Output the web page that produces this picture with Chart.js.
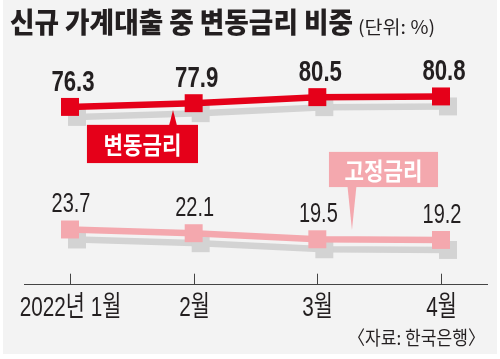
<!DOCTYPE html>
<html><head><meta charset="utf-8">
<script src="https://cdn.jsdelivr.net/npm/chart.js@4.4.1/dist/chart.umd.min.js"></script>
<style>html,body{margin:0;padding:0;background:#fff;}#wrap{width:500px;height:359px;position:relative;}</style>
</head><body><div id="wrap"><canvas id="c" width="500" height="359"></canvas></div>
<script>
const months = ['2022년 1월', '2월', '3월', '4월'];
const variableRate = [76.3, 77.9, 80.5, 80.8];
const fixedRate = [23.7, 22.1, 19.5, 19.2];
const titleText = '신규 가계대출 중 변동금리 비중';
const unitText = '(단위: %)';
const sourceText = '〈자료: 한국은행〉';
const variableLabel = '변동금리';
const fixedLabel = '고정금리';

const RED = '#e50019', PINK = '#f4a8ae', SHADOW = '#d3d3d3', INK = '#231f20', BG = '#f3f3f3';
const KR = "'Noto Sans CJK KR', sans-serif";
const NUM = "'Liberation Sans', Arial, sans-serif";

function toPts(arr){ return arr.map((v,i)=>({x:i, y:v})); }

function scaledText(ctx, text, font, x, y, sx, align, baseline, color){
  ctx.save(); ctx.font = font; ctx.fillStyle = color;
  ctx.translate(x, y); ctx.scale(sx, 1);
  ctx.textAlign = align; ctx.textBaseline = baseline;
  ctx.fillText(text, 0, 0); ctx.restore();
}
function fitText(ctx, text, font, x, y, width, align, baseline, color){
  ctx.save(); ctx.font = font;
  const w = ctx.measureText(text).width; ctx.restore();
  scaledText(ctx, text, font, x, y, width / w, align, baseline, color);
}

const bgPlugin = {
  id: 'bg',
  beforeDraw(chart){
    const ctx = chart.ctx; ctx.save();
    ctx.fillStyle = '#fff'; ctx.fillRect(0,0,chart.width,chart.height);
    ctx.fillStyle = BG; ctx.fillRect(3,0,chart.width-6,chart.height-5);
    ctx.restore();
  }
};
const shadowPlugin = {
  id: 'shadowShift',
  beforeDatasetDraw(chart, args){
    if (chart.data.datasets[args.index].isShadow){ chart.ctx.save(); chart.ctx.translate(7,10); }
  },
  afterDatasetDraw(chart, args){
    if (chart.data.datasets[args.index].isShadow){ chart.ctx.restore(); }
  }
};
const labelPlugin = {
  id: 'labels',
  afterDatasetsDraw(chart){
    const ctx = chart.ctx, xs = chart.scales.x, ys = chart.scales.y;
    const axisY = chart.chartArea.bottom;
    // tick marks (upward) and tick labels
    months.forEach((m, i) => {
      const x = Math.round(xs.getPixelForValue(i)) + 0.5;
      ctx.save(); ctx.strokeStyle = '#444'; ctx.lineWidth = 1;
      ctx.beginPath(); ctx.moveTo(x, axisY); ctx.lineTo(x, axisY - 11); ctx.stroke(); ctx.restore();
      scaledText(ctx, m, "28px 'Liberation Sans', 'Noto Sans CJK KR', sans-serif", x, axisY + 31, 0.74, 'center', 'alphabetic', INK);
    });
    // callouts (positions in data units)
    function callout(text, x0, x1, yTop, yBot, tipX, tipY, baseHalf, color, pointUp){
      const L = xs.getPixelForValue(x0), R = xs.getPixelForValue(x1);
      const T = ys.getPixelForValue(yTop), B = ys.getPixelForValue(yBot);
      const tx = xs.getPixelForValue(tipX), ty = ys.getPixelForValue(tipY);
      ctx.save(); ctx.fillStyle = color;
      ctx.fillRect(L, T, R-L, B-T);
      ctx.beginPath();
      const by = pointUp ? T : B;
      ctx.moveTo(tx - baseHalf, by + (pointUp?1:-1)); ctx.lineTo(tx + baseHalf, by + (pointUp?1:-1)); ctx.lineTo(tx, ty); ctx.closePath(); ctx.fill();
      ctx.restore();
      fitText(ctx, text, "bold 24px " + KR, (L+R)/2, (T+B)/2 + 1, 78, 'center', 'middle', '#fff');
    }
    callout(variableLabel, 0.137, 1.035, 68.6, 52.2, 0.833, 75.0, 4, RED, true);
    callout(fixedLabel, 2.094, 2.976, 57.0, 41.9, 2.28, 23.5, 4.5, PINK, false);

    // value labels
    const m0 = chart.getDatasetMeta(0), m1 = chart.getDatasetMeta(1);
    m0.data.forEach((p,i)=>{
      scaledText(ctx, variableRate[i].toFixed(1), "bold 30px " + NUM, p.x + 3, p.y - 16, 0.74, 'center', 'alphabetic', INK);
    });
    m1.data.forEach((p,i)=>{
      scaledText(ctx, fixedRate[i].toFixed(1), "27px " + NUM, p.x + 1, p.y - 17, 0.74, 'center', 'alphabetic', INK);
    });
  },
  afterDraw(chart){
    const ctx = chart.ctx;
    fitText(ctx, titleText, "900 28px " + KR, 10, 33, 343, 'left', 'alphabetic', INK);
    fitText(ctx, unitText, "18px " + KR, 358, 34, 77, 'left', 'alphabetic', INK);
    fitText(ctx, sourceText, "19px " + KR, 485, 345, 137, 'right', 'alphabetic', INK);
  }
};

const lineStyle = (color) => ({
  borderColor: color, backgroundColor: color, borderWidth: 6.5,
  pointStyle: 'rect', pointRadius: 12.7, pointBorderWidth: 0, pointHoverRadius: 12.7,
  pointBackgroundColor: color, tension: 0, clip: false, fill: false
});

new Chart(document.getElementById('c'), {
  type: 'line',
  data: {
    datasets: [
      Object.assign({ label: '변동금리', data: toPts(variableRate), order: 1 }, lineStyle(RED)),
      Object.assign({ label: '고정금리', data: toPts(fixedRate), order: 1 }, lineStyle(PINK)),
      Object.assign({ label: 'shadow1', data: toPts(variableRate), order: 2, isShadow: true }, lineStyle(SHADOW)),
      Object.assign({ label: 'shadow2', data: toPts(fixedRate), order: 2, isShadow: true }, lineStyle(SHADOW))
    ]
  },
  options: {
    responsive: false, devicePixelRatio: 1, animation: false,
    events: [],
    layout: { padding: { left: 24, right: 13, top: 51.7, bottom: 74.3 } },
    plugins: { legend: { display: false }, tooltip: { enabled: false }, title: { display: false } },
    scales: {
      x: {
        type: 'linear', min: -0.372, max: 3.372,
        afterBuildTicks: (s) => { s.ticks = months.map((m,i)=>({ value: i })); },
        afterFit: (s) => { s.height = 0; },
        ticks: { display: false },
        grid: { display: false },
        border: { display: true, color: '#444', width: 1 }
      },
      y: { display: false, min: 0, max: 100, afterFit: (s) => { s.width = 0; } }
    }
  },
  plugins: [bgPlugin, shadowPlugin, labelPlugin]
});
</script></body></html>
